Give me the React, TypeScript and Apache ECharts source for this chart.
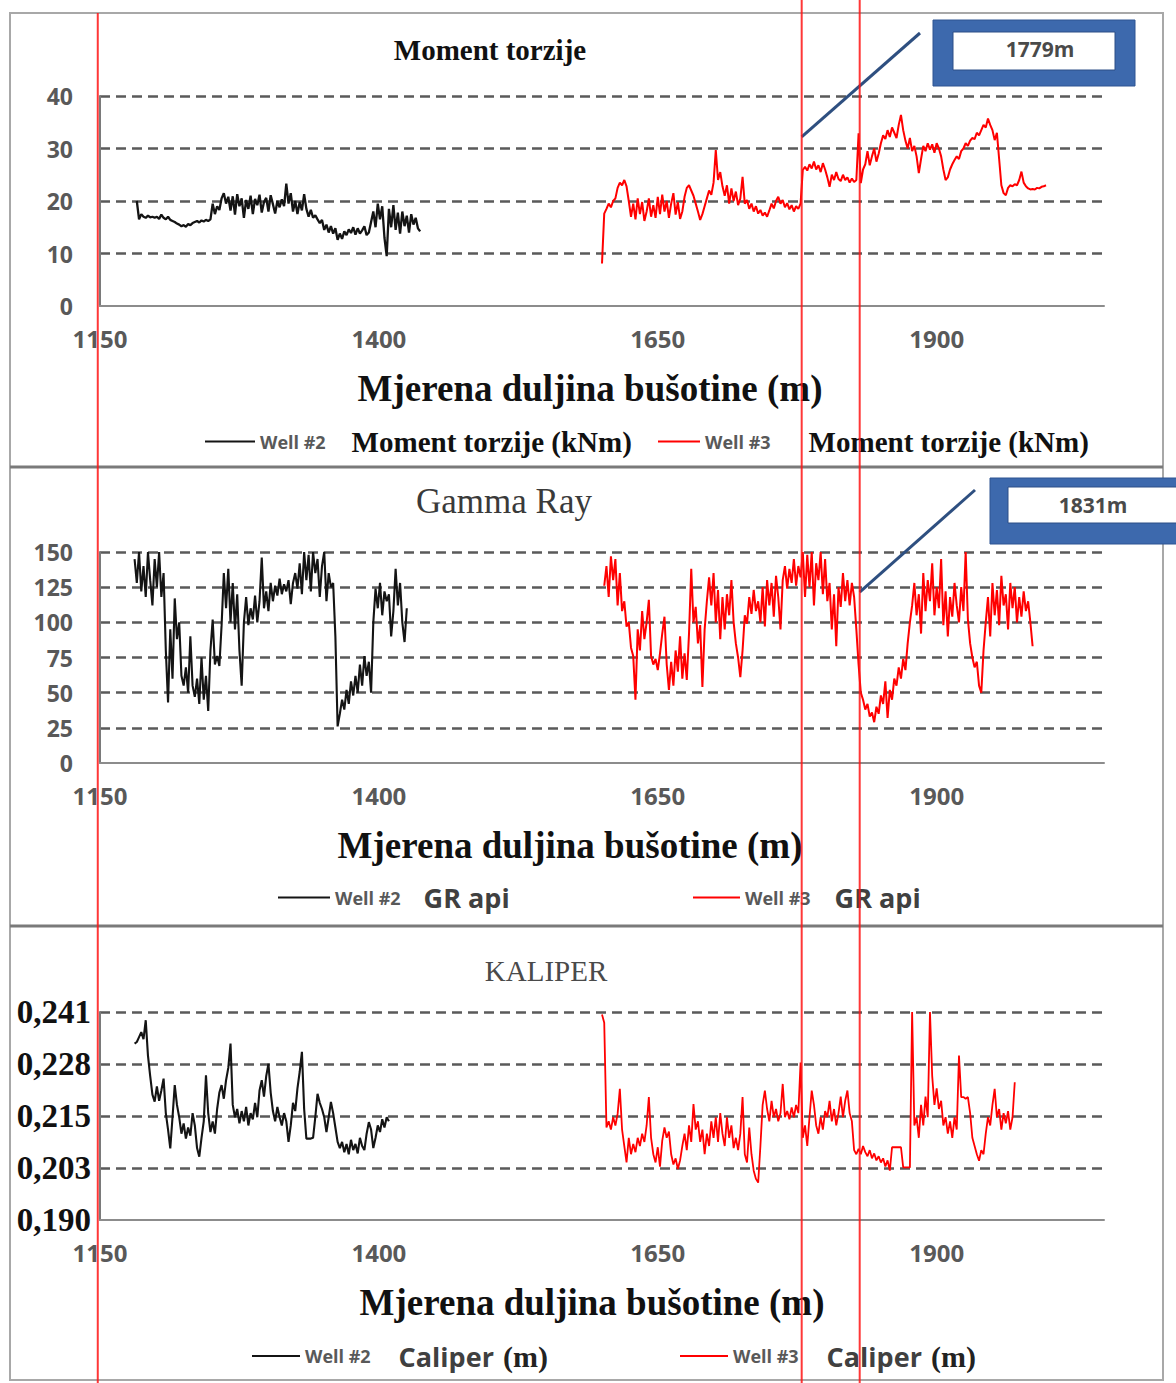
import React, { useEffect, useRef } from "react";
import * as echarts from "echarts";

// ---------- axes ----------
const X_MIN = 1150;
const X_MAX = 2050;
const X_TICKS = [1150, 1400, 1650, 1900];
const X_NAME = "Mjerena duljina bušotine (m)";
const TORQUE_MAX = 40;
const TORQUE_INTERVAL = 10;
const GR_MAX = 150;
const GR_INTERVAL = 25;
const CALIPER_TICKS = [0.19, 0.20265, 0.2153, 0.22795, 0.2406];

const TITLES = ["Moment torzije", "Gamma Ray", "KALIPER"];

// marker depths (red vertical lines) and callouts
const MARKERS = [1148, 1779, 1831];
const CALLOUT_1779 = [1779, 32.2];
const CALLOUT_1831 = [1831, 121.5];

// ---------- data (sampling step in m) ----------
const STEP = 2;

const TORQUE_W2_START = 1183;
const TORQUE_W2 = [
  20, 16.5, 17.5, 17, 16.8, 17.2, 16.9, 17.0, 16.8,
  17, 16.6, 17.4, 16.8, 16.5, 17, 16.4, 16.2,
  16.0, 15.7, 15.5, 15.2, 15.4, 15.1, 15.6, 15.4, 15.8,
  16.0, 16.2, 15.9, 16.3, 16.1, 16.4, 16.2, 16.5,
  19.5, 17.5, 19, 18.3, 20.5, 21.5, 19.5, 20.8,
  18.2, 20.9, 17.4, 21.3, 19.0, 20.5, 16.8, 20.2, 18.5, 21.0, 17.5, 20.4, 19.2, 21.2, 17.8, 19.8, 20.6, 18.0, 21.1, 19.4, 17.6, 20.0, 18.8, 20.3, 19.0,
  23.3, 19.5, 21.5, 18.0, 20.0, 17.5, 19.8, 18.2, 21.3, 18.5, 17.0, 18.3, 16.8, 17.3, 16.5,
  15.8, 16.4, 14.5, 15.5, 14.0, 15.2, 13.8, 14.8,
  12.6, 13.8, 12.8, 14.2, 13.5, 14.6, 13.9, 15.0, 13.6, 14.8, 13.8, 14.4, 15.2, 13.5,
  14.0, 16.0, 18.0, 15.0, 19.5, 16.5, 19.0, 13.0, 9.5, 18.5, 15.0, 19.2, 14.5, 17.8, 13.8, 18.0, 15.2, 17.2, 14.0, 17.5, 15.5, 16.8, 14.8, 14.2,
];

const TORQUE_W3_START = 1600;
const TORQUE_W3 = [
  8.1, 17.6, 18.5, 19.5, 18.8, 20.0, 20.5, 22.5, 23.5, 23.0, 24.0, 22.8, 20.0, 17.0, 19.5, 16.5, 20.5, 17.5, 19.8, 16.2,
  18.0, 20.5, 17.0, 19.2, 16.8, 20.8, 17.5, 21.2, 18.0, 20.0, 16.8, 19.5, 21.5, 17.4, 19.8, 16.6, 18.0, 20.8, 22.5, 23.0,
  22.0, 21.0, 19.5, 18.0, 16.4, 17.5, 19.0, 20.5, 22.0, 21.2, 23.5, 29.7, 24.0, 25.5, 22.8, 21.0, 23.0, 19.5, 22.4, 20.0,
  21.8, 19.2, 20.5, 24.6, 19.5, 20.2, 18.5, 19.5, 18.0, 19.0, 17.6, 18.3, 17.2, 17.8, 17.0, 18.2, 19.5, 18.6, 20.0, 20.8,
  19.5, 20.2, 18.8, 19.6, 18.4, 19.2, 18.0, 19.0, 18.5, 19.5, 25.9, 26.5, 25.8, 27.0, 26.2, 27.5, 26.0, 26.8, 25.5, 27.2,
  26.0, 24.5, 22.7, 25.0, 24.0, 25.5, 24.2, 23.8, 25.0, 24.0, 24.5, 23.5, 24.3, 23.6, 24.0, 32.9, 23.4, 26.0, 27.0, 29.5,
  26.8, 28.5, 30.0, 27.5, 29.0, 31.0, 32.5, 31.8, 33.5, 32.2, 34.0, 33.0, 32.0, 34.5, 36.4, 33.5, 31.5, 30.0, 32.0, 29.5,
  30.5, 28.5, 25.3, 28.0, 30.5, 29.5, 31.0, 29.8, 30.8, 29.2, 31.0, 30.0, 28.5, 26.0, 24.0, 24.5, 26.0, 27.0, 27.8, 28.5,
  28.0, 29.5, 30.0, 31.0, 30.5, 31.5, 32.0, 31.8, 33.0, 32.5, 33.5, 34.5, 34.0, 35.7, 34.5, 33.5, 31.6, 33.0, 28.0, 23.0,
  21.5, 21.1, 22.5, 23.0, 22.8, 23.2, 23.0, 24.0, 25.6, 23.5, 22.8, 22.4, 22.2, 22.3, 22.2, 22.5, 22.4, 22.7, 22.8, 23.0,
];

const GR_W2_START = 1181;
const GR_W2 = [
  145, 128, 150, 122, 140, 118, 150, 130, 112, 145, 125, 150, 118, 135, 80, 43, 95, 60, 117, 88,
  100, 62, 55, 68, 50, 90, 55, 47, 60, 42, 75, 45, 62, 37, 80, 102, 70, 76, 69, 98,
  135, 110, 138, 100, 128, 95, 120, 80, 55, 100, 118, 98, 110, 102, 119, 100, 115, 146, 110, 122,
  108, 128, 115, 126, 119, 131, 120, 127, 122, 130, 113, 128, 135, 124, 142, 120, 150, 130, 148, 122,
  150, 135, 145, 118, 140, 150, 115, 135, 125, 128, 90, 26, 35, 45, 38, 52, 42, 58, 48, 62,
  50, 70, 55, 76, 62, 72, 50, 100, 124, 110, 128, 105, 122, 115, 120, 90, 108, 138, 112, 128,
  100, 86, 110,
];

const GR_W3_START = 1602;
const GR_W3 = [
  126, 140, 118, 147, 130, 145, 112, 135, 108, 115, 97, 100, 82, 76, 45, 95, 80, 108, 88, 100,
  116, 76, 70, 74, 66, 78, 92, 104, 70, 52, 72, 55, 80, 65, 90, 60, 78, 59, 92, 138,
  100, 111, 85, 98, 54, 95, 115, 132, 112, 135, 100, 123, 88, 118, 95, 120, 105, 130, 100, 85,
  75, 61, 80, 105, 99, 118, 106, 123, 108, 115, 100, 125, 97, 130, 112, 128, 104, 133, 118, 95,
  130, 140, 124, 138, 128, 145, 126, 140, 132, 150, 118, 148, 125, 150, 112, 142, 130, 150, 120, 145,
  115, 128, 95, 120, 83, 125, 111, 135, 115, 130, 112, 128, 118, 95, 70, 50, 45, 38, 42, 33,
  36, 29, 40, 35, 48, 42, 58, 32, 52, 45, 60, 55, 68, 60, 74, 66, 85, 100, 112, 128,
  105, 120, 92, 135, 108, 130, 115, 142, 105, 125, 110, 145, 98, 122, 90, 118, 104, 128, 112, 100,
  125, 108, 150, 102, 85, 75, 68, 72, 55, 50, 80, 100, 118, 90, 128, 105, 123, 98, 133, 112,
  120, 95, 128, 110, 125, 100, 118, 104, 122, 108, 115, 100, 83,
];

const CAL_W2_START = 1181;
const CAL_W2 = [
  0.2329, 0.2333, 0.2345, 0.2357, 0.2340, 0.2386, 0.2300, 0.2250, 0.2205, 0.2188,
  0.2225, 0.2190, 0.2215, 0.2244, 0.2160, 0.2120, 0.2074, 0.2150, 0.2228, 0.2180,
  0.2150, 0.2110, 0.2135, 0.2098, 0.2125, 0.2105, 0.2160, 0.2130, 0.2075, 0.2054,
  0.2100, 0.2140, 0.2252, 0.2160, 0.2114, 0.2140, 0.2110, 0.2170, 0.2210, 0.2228,
  0.2195, 0.2240, 0.2270, 0.2329, 0.2180, 0.2150, 0.2170, 0.2135, 0.2165, 0.2140,
  0.2175, 0.2130, 0.2160, 0.2145, 0.2185, 0.2150, 0.2215, 0.2240, 0.2200, 0.2250,
  0.2280, 0.2210, 0.2165, 0.2140, 0.2175, 0.2150, 0.2130, 0.2160, 0.2140, 0.2090,
  0.2130, 0.2185, 0.2165, 0.2220, 0.2260, 0.2309, 0.2170, 0.2098, 0.2098, 0.2098,
  0.2100, 0.2150, 0.2207, 0.2185, 0.2170, 0.2150, 0.2114, 0.2150, 0.2187, 0.2160,
  0.2125, 0.2090, 0.2075, 0.2090, 0.2065, 0.2085, 0.2060, 0.2095, 0.2070, 0.2085,
  0.2062, 0.2100, 0.2080, 0.2070, 0.2110, 0.2138, 0.2120, 0.2075, 0.2100, 0.2130,
  0.2114, 0.2145, 0.2125, 0.2150, 0.2140,
];

const CAL_W3_START = 1600;
const CAL_W3 = [
  0.2400, 0.2380, 0.2125, 0.2140, 0.2120, 0.2150, 0.2130, 0.2158, 0.2219, 0.2120,
  0.2080, 0.2040, 0.2100, 0.2060, 0.2085, 0.2065, 0.2100, 0.2080, 0.2110, 0.2090,
  0.2130, 0.2199, 0.2100, 0.2060, 0.2040, 0.2077, 0.2030, 0.2093, 0.2125, 0.2100,
  0.2115, 0.2060, 0.2035, 0.2050, 0.2024, 0.2045, 0.2080, 0.2110, 0.2070, 0.2130,
  0.2090, 0.2182, 0.2120, 0.2140, 0.2090, 0.2120, 0.2060, 0.2110, 0.2080, 0.2140,
  0.2100, 0.2150, 0.2090, 0.2160, 0.2110, 0.2080, 0.2150, 0.2100, 0.2130, 0.2075,
  0.2100, 0.2070, 0.2110, 0.2199, 0.2060, 0.2040, 0.2125, 0.2060, 0.2020, 0.2000,
  0.1991, 0.2080, 0.2180, 0.2215, 0.2170, 0.2140, 0.2190, 0.2150, 0.2170, 0.2140,
  0.2160, 0.2231, 0.2150, 0.2165, 0.2145, 0.2174, 0.2150, 0.2180, 0.2160, 0.2283,
  0.2100, 0.2130, 0.2080, 0.2150, 0.2215, 0.2180, 0.2130, 0.2110, 0.2150, 0.2120,
  0.2165, 0.2150, 0.2190, 0.2140, 0.2170, 0.2130, 0.2160, 0.2200, 0.2150, 0.2190,
  0.2215, 0.2160, 0.2140, 0.2070, 0.2060, 0.2073, 0.2060, 0.2080, 0.2065, 0.2055,
  0.2070, 0.2050, 0.2062, 0.2045, 0.2055, 0.2040, 0.2050, 0.2030, 0.2045, 0.2020,
  0.2077, 0.2077, 0.2077, 0.2077, 0.2077, 0.2028, 0.2028, 0.2028, 0.2028, 0.2406,
  0.2130, 0.2150, 0.2100, 0.2180, 0.2130, 0.2200, 0.2150, 0.2406, 0.2250, 0.2180,
  0.2220, 0.2170, 0.2190, 0.2130, 0.2150, 0.2110, 0.2140, 0.2100, 0.2150, 0.2120,
  0.2300, 0.2199, 0.2199, 0.2195, 0.2199, 0.2160, 0.2100, 0.2080, 0.2060, 0.2044,
  0.2070, 0.2060, 0.2110, 0.2150, 0.2130, 0.2180, 0.2219, 0.2150, 0.2170, 0.2120,
  0.2160, 0.2135, 0.2165, 0.2120, 0.2150, 0.2235,
];

// ---------- styling ----------
const SERIF = '"Liberation Serif", "Times New Roman", serif';
const SANS = '"Open Sans", Lato, sans-serif';
const BLACK = "#141414";
const RED = "#ff0000";
const GRID_LEFT = 100;
const GRID_WIDTH = 1004;
const PANELS = [
  { top: 96, height: 210 },
  { top: 552, height: 211 },
  { top: 1012, height: 208 },
];

function toPairs(start: number, values: number[]) {
  return values.map((v, i) => [start + i * STEP, v]);
}

const SERIES_DEF = [
  { name: "Well #2 Moment torzije (kNm)", grid: 0, color: BLACK, width: 2.3, start: TORQUE_W2_START, values: TORQUE_W2 },
  { name: "Well #3 Moment torzije (kNm)", grid: 0, color: RED, width: 2, start: TORQUE_W3_START, values: TORQUE_W3 },
  { name: "Well #2 GR api", grid: 1, color: BLACK, width: 2.1, start: GR_W2_START, values: GR_W2 },
  { name: "Well #3 GR api", grid: 1, color: RED, width: 2, start: GR_W3_START, values: GR_W3 },
  { name: "Well #2 Caliper (m)", grid: 2, color: BLACK, width: 2.1, start: CAL_W2_START, values: CAL_W2 },
  { name: "Well #3 Caliper (m)", grid: 2, color: RED, width: 1.8, start: CAL_W3_START, values: CAL_W3 },
];

const tickLabel = {
  color: "#595959",
  fontFamily: SANS,
  fontWeight: "bold" as const,
  fontSize: 23,
};

function xAxis(i: number, nameShift: number) {
  return {
    type: "value",
    gridIndex: i,
    min: X_MIN,
    max: X_MAX,
    axisLine: { show: true, lineStyle: { color: "#8c8c8c", width: 2 } },
    axisTick: { show: false },
    splitLine: { show: false },
    axisLabel: {
      ...tickLabel,
      fontSize: 24,
      margin: 20,
      customValues: X_TICKS,
      formatter: (v: number) => String(v),
    },
    name: X_NAME,
    nameLocation: "middle",
    nameGap: 64,
    nameTextStyle: {
      fontFamily: SERIF,
      fontWeight: "bold",
      fontSize: 37,
      color: "#111",
      padding: [0, nameShift, 0, 0],
    },
  };
}

const gridLine = {
  show: true,
  showMinLine: false,
  lineStyle: { color: "#5a5a5a", width: 2.5, type: [10, 6] },
};

const legendRich = {
  w: { fontFamily: SANS, fontWeight: "bold", fontSize: 18, color: "#595959" },
  s: { fontFamily: SERIF, fontWeight: "bold", fontSize: 29, color: "#111", padding: [0, 0, 0, 26] },
  s2: { fontFamily: SERIF, fontWeight: "bold", fontSize: 29, color: "#111", padding: [0, 0, 0, 38] },
  a: { fontFamily: SANS, fontWeight: "bold", fontSize: 27, color: "#404040", padding: [0, 0, 0, 23] },
  a2: { fontFamily: SANS, fontWeight: "bold", fontSize: 27, color: "#404040", padding: [0, 0, 0, 24] },
  c: { fontFamily: SANS, fontWeight: "bold", fontSize: 27, color: "#404040", padding: [0, 0, 0, 28] },
  m: { fontFamily: SERIF, fontWeight: "bold", fontSize: 30, color: "#222", padding: [0, 0, 0, 9] },
};

function legend(name: string, left: number, cy: number, width: number, text: string) {
  return {
    data: [name],
    left,
    top: cy - 16,
    padding: 0,
    icon: "rect",
    itemWidth: width,
    itemHeight: 2,
    selectedMode: false,
    formatter: () => text,
    textStyle: { rich: legendRich },
  };
}

function buildOption() {
  return {
    animation: false,
    backgroundColor: "#ffffff",
    title: [
      { text: TITLES[0], left: 490, top: 50, textAlign: "center", textVerticalAlign: "middle", padding: 0,
        textStyle: { fontFamily: SERIF, fontWeight: "bold", fontSize: 29, color: "#111" } },
      { text: TITLES[1], left: 504, top: 501, textAlign: "center", textVerticalAlign: "middle", padding: 0,
        textStyle: { fontFamily: SERIF, fontWeight: "normal", fontSize: 35, color: "#3a3a3a" } },
      { text: TITLES[2], left: 546, top: 971, textAlign: "center", textVerticalAlign: "middle", padding: 0,
        textStyle: { fontFamily: SERIF, fontWeight: "normal", fontSize: 29, color: "#4a4a4a" } },
    ],
    legend: [
      legend(SERIES_DEF[0].name, 205, 443, 50, "{w|Well #2}{s|Moment torzije (kNm)}"),
      legend(SERIES_DEF[1].name, 658, 443, 42, "{w|Well #3}{s2|Moment torzije (kNm)}"),
      legend(SERIES_DEF[2].name, 278, 900, 52, "{w|Well #2}{a|GR api}"),
      legend(SERIES_DEF[3].name, 693, 900, 47, "{w|Well #3}{a2|GR api}"),
      legend(SERIES_DEF[4].name, 252, 1357, 48, "{w|Well #2}{c|Caliper}{m|(m)}"),
      legend(SERIES_DEF[5].name, 680, 1357, 48, "{w|Well #3}{c|Caliper}{m|(m)}"),
    ],
    grid: PANELS.map((p) => ({ left: GRID_LEFT, width: GRID_WIDTH, top: p.top, height: p.height, containLabel: false })),
    xAxis: [xAxis(0, 24), xAxis(1, 64), xAxis(2, 20)],
    yAxis: [
      {
        type: "value", gridIndex: 0, min: 0, max: TORQUE_MAX, interval: TORQUE_INTERVAL,
        axisLine: { show: true, lineStyle: { color: "#7a7a7a", width: 2 } },
        axisTick: { show: false },
        splitLine: gridLine,
        axisLabel: { ...tickLabel, margin: 27 },
      },
      {
        type: "value", gridIndex: 1, min: 0, max: GR_MAX, interval: GR_INTERVAL,
        axisLine: { show: true, lineStyle: { color: "#7a7a7a", width: 2 } },
        axisTick: { show: false },
        splitLine: gridLine,
        axisLabel: { ...tickLabel, margin: 27 },
      },
      {
        type: "value", gridIndex: 2, min: CALIPER_TICKS[0], max: CALIPER_TICKS[CALIPER_TICKS.length - 1],
        axisLine: { show: true, lineStyle: { color: "#7a7a7a", width: 2 } },
        axisTick: { show: false, customValues: CALIPER_TICKS },
        splitLine: gridLine,
        axisLabel: {
          customValues: CALIPER_TICKS,
          margin: 9,
          color: "#111",
          fontFamily: SERIF,
          fontWeight: "bold",
          fontSize: 33,
          formatter: (v: number) => v.toFixed(3).replace(".", ","),
        },
      },
    ],
    series: SERIES_DEF.map((s) => ({
      name: s.name,
      type: "line",
      xAxisIndex: s.grid,
      yAxisIndex: s.grid,
      data: toPairs(s.start, s.values),
      color: s.color,
      showSymbol: false,
      symbol: "none",
      silent: true,
      lineStyle: { color: s.color, width: s.width },
      z: 3,
    })),
  };
}

function buildGraphic(mx: number[], p1: number[], p2: number[]) {
  const g: any[] = [
    { type: "rect", silent: true, z: 1, shape: { x: 10, y: 13, width: 1153, height: 1367 },
      style: { fill: "none", stroke: "#a8a8a8", lineWidth: 2 } },
    { type: "line", silent: true, z: 1, shape: { x1: 10, y1: 467, x2: 1163, y2: 467 },
      style: { stroke: "#7a7a7a", lineWidth: 3 } },
    { type: "line", silent: true, z: 1, shape: { x1: 10, y1: 926, x2: 1163, y2: 926 },
      style: { stroke: "#7a7a7a", lineWidth: 3 } },
    // callout 1779m
    { type: "rect", silent: true, z: 50, shape: { x: 933, y: 20, width: 202, height: 66 },
      style: { fill: "#3d69ad", stroke: "#2f5592", lineWidth: 1 } },
    { type: "rect", silent: true, z: 51, shape: { x: 953, y: 32, width: 162, height: 38 },
      style: { fill: "#ffffff", stroke: "#2c4f86", lineWidth: 1 } },
    { type: "text", silent: true, z: 52, x: 1040, y: 49,
      style: { text: "1779m", fill: "#4a4a4a", font: `bold 21px ${SANS}`, textAlign: "center", textVerticalAlign: "middle" } },
    { type: "line", silent: true, z: 50, shape: { x1: p1[0], y1: p1[1], x2: 920, y2: 33 },
      style: { stroke: "#2e4f80", lineWidth: 3 } },
    // callout 1831m
    { type: "rect", silent: true, z: 50, shape: { x: 990, y: 478, width: 200, height: 66 },
      style: { fill: "#3d69ad", stroke: "#2f5592", lineWidth: 1 } },
    { type: "rect", silent: true, z: 51, shape: { x: 1008, y: 487, width: 180, height: 36 },
      style: { fill: "#ffffff", stroke: "#2c4f86", lineWidth: 1 } },
    { type: "text", silent: true, z: 52, x: 1093, y: 505,
      style: { text: "1831m", fill: "#4a4a4a", font: `bold 21px ${SANS}`, textAlign: "center", textVerticalAlign: "middle" } },
    { type: "line", silent: true, z: 50, shape: { x1: p2[0], y1: p2[1], x2: 975, y2: 490 },
      style: { stroke: "#2e4f80", lineWidth: 3 } },
  ];
  mx.forEach((x, i) => {
    g.push({
      type: "line", silent: true, z: 100,
      shape: { x1: x, y1: i === 0 ? 13 : 0, x2: x, y2: 1383 },
      style: { stroke: "rgba(255,20,20,0.85)", lineWidth: 2 },
    });
  });
  return g;
}

export default function App() {
  const ref = useRef<HTMLDivElement>(null);
  useEffect(() => {
    document.body.style.margin = "0";
    const chart = echarts.init(ref.current as HTMLDivElement, null, { renderer: "svg" });
    chart.setOption(buildOption() as any);
    const mx = MARKERS.map((d) => chart.convertToPixel({ xAxisIndex: 0 }, d) as unknown as number);
    const p1 = chart.convertToPixel({ gridIndex: 0 }, CALLOUT_1779) as unknown as number[];
    const p2 = chart.convertToPixel({ gridIndex: 1 }, CALLOUT_1831) as unknown as number[];
    chart.setOption({ graphic: buildGraphic(mx, p1, p2) } as any);
    return () => chart.dispose();
  }, []);
  return <div ref={ref} style={{ width: 1176, height: 1383 }} />;
}
